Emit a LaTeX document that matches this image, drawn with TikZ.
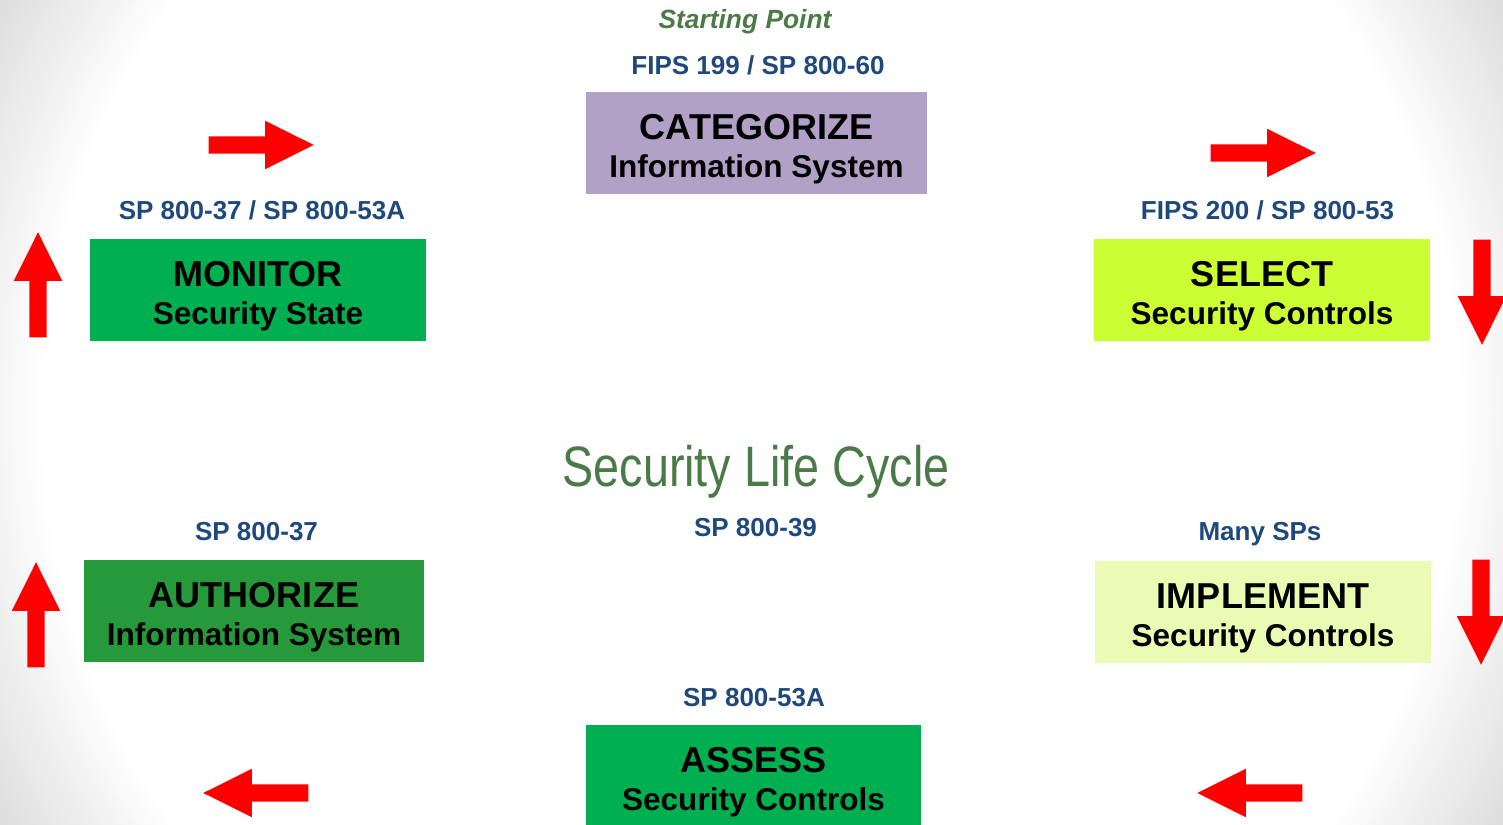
\documentclass[tikz,border=0pt]{standalone}
\usepackage{fontspec}
\setmainfont{Liberation Sans}
\newfontfamily\narrowsans[FakeStretch=0.82]{Liberation Sans}
\usetikzlibrary{shapes.arrows}

\definecolor{docblue}{HTML}{1F497D}
\definecolor{cyclegreen}{HTML}{4A7A47}
\definecolor{catpurple}{HTML}{B2A1C7}
\definecolor{brightgreen}{HTML}{00B050}
\definecolor{darkgreen}{HTML}{26993A}
\definecolor{limegreen}{HTML}{CCFF33}
\definecolor{palelime}{HTML}{EAFCB3}

\newcommand{\subline}{\fontsize{8.96pt}{11pt}\selectfont}

\tikzset{
  stage/.style={rectangle, minimum height=1.02cm, inner sep=0pt, align=center, text=black,
    font=\bfseries\fontsize{10.24pt}{11pt}\selectfont},
  doc/.style={anchor=base, inner sep=0pt, text=docblue, font=\bfseries\fontsize{7.4pt}{9pt}\selectfont},
  cyclearrow/.style={single arrow, fill=red, draw=none, anchor=tail, inner xsep=0pt, inner ysep=0.08cm,
    minimum height=1.05cm, minimum width=0.47cm, single arrow head extend=0.155cm,
    single arrow tip angle=53}
}

\begin{document}
\begin{tikzpicture}[x=0.01cm, y=-0.01cm]
	\useasboundingbox (0,0) rectangle (1503,825);
	% grey towards the corners
	\begin{scope}
	\clip (0,0) rectangle (1503,825);
	\foreach \r in {900,895,...,700}{
		\pgfmathsetmacro\g{max(0,(\r-712)*0.09)}
		\fill[black!\g] (751.5,412.5) circle [radius=\r*0.01cm];
	}
	\end{scope}
	% the six steps
	\node[stage, fill=catpurple, minimum width=3.41cm] (categorize) at (756.5,143) {\rule{0pt}{10.6pt}CATEGORIZE\\{\subline Information System}};
	\node[stage, fill=limegreen, minimum width=3.36cm] (select) at (1262,290) {\rule{0pt}{10.6pt}SELECT\\{\subline Security Controls}};
	\node[stage, fill=palelime, minimum width=3.36cm] (implement) at (1263,612) {\rule{0pt}{10.6pt}IMPLEMENT\\{\subline Security Controls}};
	\node[stage, fill=brightgreen, minimum width=3.35cm] (assess) at (753.5,776) {\rule{0pt}{10.6pt}ASSESS\\{\subline Security Controls}};
	\node[stage, fill=darkgreen, minimum width=3.40cm] (authorize) at (254,611) {\rule{0pt}{10.6pt}AUTHORIZE\\{\subline Information System}};
	\node[stage, fill=brightgreen, minimum width=3.36cm] (monitor) at (258,290) {\rule{0pt}{10.6pt}MONITOR\\{\subline Security State}};
	% publications
	\node[doc] (fips199) at (758,75) {FIPS 199 / SP 800-60};
	\node[doc] (fips200) at (1267.5,220) {FIPS 200 / SP 800-53};
	\node[doc] (manysps) at (1260,541) {Many SPs};
	\node[doc] (sp53a) at (754,706) {SP 800-53A};
	\node[doc] (sp37) at (256.5,541) {SP 800-37};
	\node[doc] (sp37sp53a) at (262,220) {SP 800-37 / SP 800-53A};
	\node[doc] (sp39) at (755.5,537) {SP 800-39};
	\node[anchor=base, inner sep=0pt, text=cyclegreen, font=\bfseries\itshape\fontsize{7.5pt}{9pt}\selectfont] (start) at (745,29) {Starting Point};
	\node[anchor=base, inner sep=0pt, text=cyclegreen, font=\narrowsans\fontsize{16.2pt}{19pt}\selectfont] (lifecycle) at (756,487) {Security Life Cycle};
	\foreach \x/\y/\r [count=\i] in {208/145/0, 1210/153/0, 1482/239/-90, 1481/559/-90, 1303/793/180, 309/793/180, 36/668/90, 38/338/90}
		\node[cyclearrow, rotate=\r] (arrow\i) at (\x,\y) {};
\end{tikzpicture}
\end{document}
